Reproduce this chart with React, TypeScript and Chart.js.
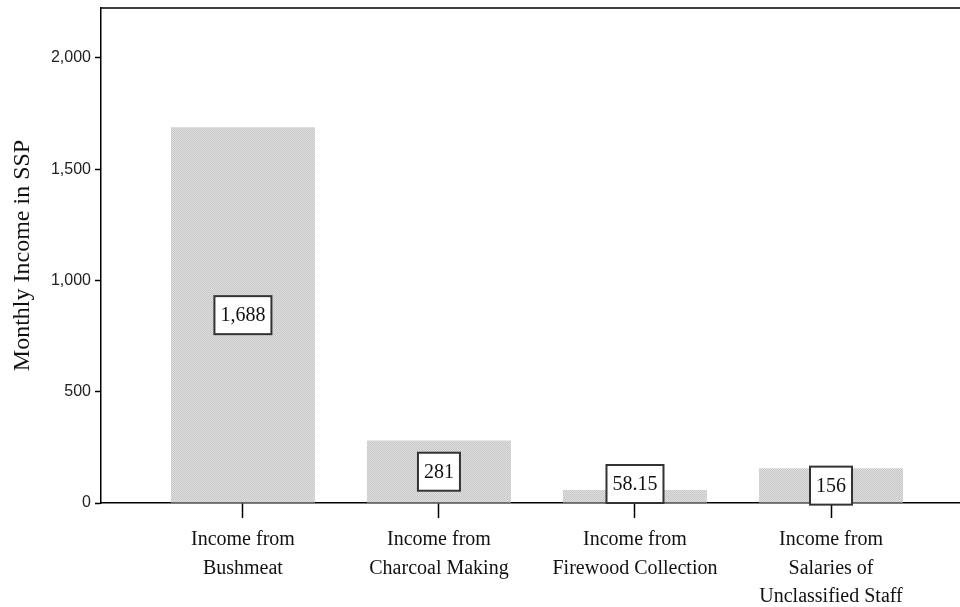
import React, { useEffect, useRef } from "react";
import { Chart, registerables } from "chart.js";

Chart.register(...registerables);

const categories: string[][] = [
  ["Income from", "Bushmeat"],
  ["Income from", "Charcoal Making"],
  ["Income from", "Firewood Collection"],
  ["Income from", "Salaries of", "Unclassified Staff"],
];
const values: number[] = [1688, 281, 58.15, 156];
const valueLabels: string[] = ["1,688", "281", "58.15", "156"];
const yTicks: number[] = [0, 500, 1000, 1500, 2000];

function makePattern(ctx: CanvasRenderingContext2D): CanvasPattern | string {
  const c = document.createElement("canvas");
  c.width = 2;
  c.height = 2;
  const p = c.getContext("2d");
  if (!p) return "#d2d2d2";
  p.fillStyle = "#dedede";
  p.fillRect(0, 0, 2, 2);
  p.fillStyle = "#c8c8c8";
  p.fillRect(0, 0, 1, 1);
  p.fillRect(1, 1, 1, 1);
  return ctx.createPattern(c, "repeat") || "#d2d2d2";
}

const framePlugin = {
  id: "frameTop",
  afterDraw(chart: any) {
    const { ctx, chartArea } = chart;
    ctx.save();
    ctx.strokeStyle = "#000";
    ctx.lineWidth = 1.5;
    ctx.beginPath();
    ctx.moveTo(chartArea.left, chartArea.top);
    ctx.lineTo(chartArea.right, chartArea.top);
    ctx.stroke();
    ctx.restore();
  },
};

const labelPlugin = {
  id: "valueBoxes",
  afterDatasetsDraw(chart: any) {
    const { ctx } = chart;
    const meta = chart.getDatasetMeta(0);
    const yScale = chart.scales.y;
    const zeroY = yScale.getPixelForValue(0);
    ctx.save();
    ctx.font = "20px 'Liberation Serif', serif";
    ctx.textAlign = "center";
    ctx.textBaseline = "middle";
    meta.data.forEach((bar: any, i: number) => {
      const text = valueLabels[i];
      const w = ctx.measureText(text).width + 12;
      const h = 38;
      let cy = yScale.getPixelForValue(values[i] / 2);
      if (cy + h / 2 > zeroY + 3) cy = zeroY + 3 - h / 2;
      if (values[i] < 100) cy = zeroY - h / 2;
      const x = bar.x;
      ctx.fillStyle = "#fff";
      ctx.fillRect(x - w / 2, cy - h / 2, w, h);
      ctx.strokeStyle = "#333";
      ctx.lineWidth = 2;
      ctx.strokeRect(x - w / 2, cy - h / 2, w, h);
      ctx.fillStyle = "#111";
      ctx.fillText(text, x, cy + 1);
    });
    ctx.restore();
  },
};

export default function App() {
  const ref = useRef<HTMLCanvasElement>(null);
  useEffect(() => {
    const canvas = ref.current;
    if (!canvas) return;
    const ctx = canvas.getContext("2d");
    if (!ctx) return;
    const pattern = makePattern(ctx);
    const chart = new Chart(canvas, {
      type: "bar",
      data: {
        datasets: [
          {
            data: values.map((v, i) => ({ x: i, y: v })),
            backgroundColor: pattern as any,
            borderWidth: 0,
            categoryPercentage: 1,
            barPercentage: 0.735,
          },
        ],
      },
      options: {
        animation: false,
        responsive: false,
        maintainAspectRatio: false,
        layout: { padding: { top: 8, right: 0, left: 0, bottom: 0 } },
        plugins: { legend: { display: false }, tooltip: { enabled: false } },
        scales: {
          x: {
            type: "linear",
            offset: false,
            min: -0.724,
            max: 3.658,
            afterFit(scale: any) {
              scale.height = 104;
              scale.paddingLeft = 0;
              scale.paddingRight = 0;
            },
            afterBuildTicks(scale: any) {
              scale.ticks = categories.map((_, i) => ({ value: i }));
            },
            grid: {
              display: true,
              offset: false,
              drawOnChartArea: false,
              tickLength: 15,
              tickColor: "#000",
              tickWidth: 1.5,
            },
            border: { display: true, color: "#000", width: 1.5 },
            ticks: {
              autoSkip: false,
              maxRotation: 0,
              padding: 8,
              color: "#111",
              font: { family: "'Liberation Serif', serif", size: 20, lineHeight: 1.42 },
              callback: (v: any) => categories[Number(v)] ?? "",
            },
          },
          y: {
            min: 0,
            max: 2224,
            afterFit(scale: any) {
              scale.width = 101;
              scale.paddingTop = 0;
              scale.paddingBottom = 0;
            },
            afterBuildTicks(scale: any) {
              scale.ticks = yTicks.map((v) => ({ value: v }));
            },
            grid: {
              display: true,
              drawOnChartArea: false,
              tickLength: 6,
              tickColor: "#000",
              tickWidth: 1.5,
            },
            border: { display: true, color: "#000", width: 1.5 },
            ticks: {
              padding: 4,
              color: "#222",
              font: { family: "'Liberation Sans', Arial, sans-serif", size: 16 },
              callback: (v: any) => Number(v).toLocaleString("en-US"),
            },
            title: {
              display: true,
              text: "Monthly Income in SSP",
              color: "#111",
              padding: { top: 8, bottom: 0 },
              font: { family: "'Liberation Serif', serif", size: 24 },
            },
          },
        },
      },
      plugins: [framePlugin, labelPlugin],
    });
    return () => chart.destroy();
  }, []);
  return (
    <div style={{ position: "fixed", left: 0, top: 0, width: 960, height: 607, background: "#fff" }}>
      <canvas ref={ref} width={960} height={607} style={{ width: 960, height: 607 }} />
    </div>
  );
}
